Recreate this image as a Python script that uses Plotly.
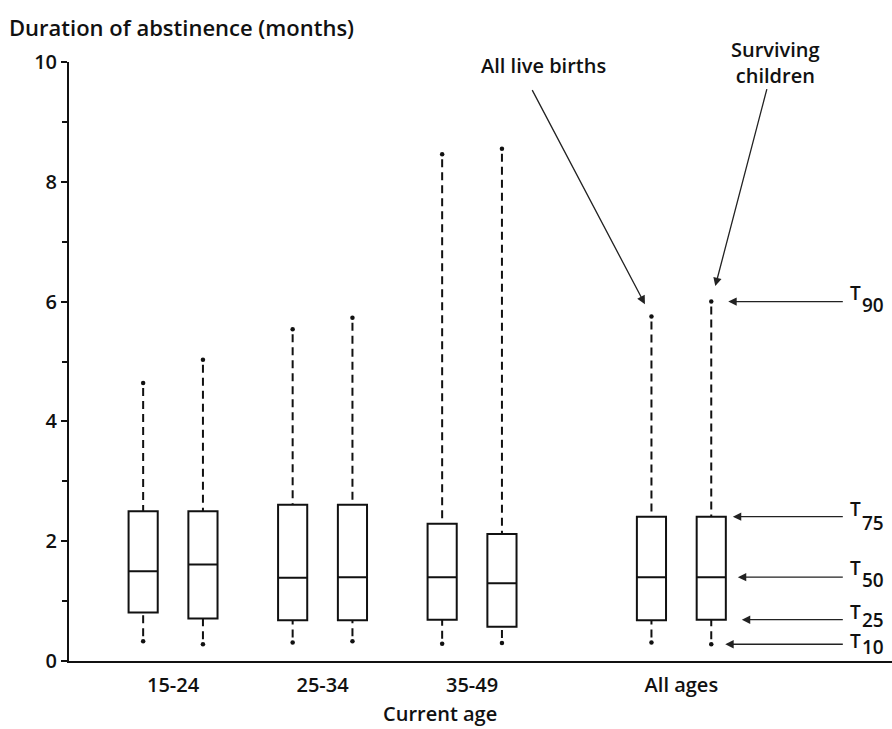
import plotly.graph_objects as go

# Age groups and their positions on the x axis
categories = ["15-24", "25-34", "35-49", "All ages"]
group_pos = [1.0, 2.0, 3.0, 4.4]

# Percentiles of duration of abstinence (months), all live births
alb_t10 = [0.33, 0.31, 0.29, 0.31]
alb_t25 = [0.81, 0.68, 0.69, 0.68]
alb_t50 = [1.50, 1.39, 1.40, 1.40]
alb_t75 = [2.50, 2.61, 2.29, 2.41]
alb_t90 = [4.64, 5.54, 8.46, 5.75]

# Percentiles of duration of abstinence (months), surviving children
sc_t10 = [0.28, 0.33, 0.30, 0.28]
sc_t25 = [0.71, 0.68, 0.57, 0.69]
sc_t50 = [1.61, 1.40, 1.30, 1.40]
sc_t75 = [2.50, 2.61, 2.12, 2.41]
sc_t90 = [5.03, 5.73, 8.55, 6.00]

FONT = "Open Sans"
INK = "#111111"
OFFSET = 0.2
BOX_W = 0.195


def txt(size):
    return dict(family=FONT, size=size, color=INK, weight=600)


x_alb = [p - OFFSET for p in group_pos]
x_sc = [p + OFFSET for p in group_pos]

fig = go.Figure()


def add_series(xs, t10, t25, t50, t75, t90, name):
    # box from the quartiles, whiskers drawn separately as dashed lines
    fig.add_trace(go.Box(
        x=xs, q1=t25, median=t50, q3=t75, lowerfence=t25, upperfence=t75,
        width=BOX_W, whiskerwidth=0, boxpoints=False,
        fillcolor="white", line=dict(color=INK, width=2),
        name=name, showlegend=False, hoverinfo="skip",
    ))
    wx, wy = [], []
    for x, lo, q1, q3, hi in zip(xs, t10, t25, t75, t90):
        wx += [x, x, None, x, x, None]
        wy += [hi, q3, None, lo, q1, None]
    fig.add_trace(go.Scatter(
        x=wx, y=wy, mode="lines",
        line=dict(color=INK, width=2, dash="0px,5px,8px,0px"),
        showlegend=False, hoverinfo="skip",
    ))
    fig.add_trace(go.Scatter(
        x=xs + xs, y=t90 + t10, mode="markers",
        marker=dict(color=INK, size=4.5),
        showlegend=False, hoverinfo="skip",
    ))


add_series(x_alb, alb_t10, alb_t25, alb_t50, alb_t75, alb_t90, "All live births")
add_series(x_sc, sc_t10, sc_t25, sc_t50, sc_t75, sc_t90, "Surviving children")

annotations = []
arrow_style = dict(showarrow=True, arrowhead=2, arrowsize=1.3, arrowwidth=1.3,
                   arrowcolor="#222222", text="")

# series labels with pointers to the "All ages" boxes
annotations.append(dict(x=x_alb[3], y=alb_t90[3], xref="x", yref="y",
                        ax=-120, ay=-228, standoff=14, **arrow_style))
annotations.append(dict(x=x_sc[3], y=sc_t90[3], xref="x", yref="y",
                        ax=56, ay=-214, standoff=16, **arrow_style))
annotations.append(dict(x=3.91, y=9.94, xref="x", yref="y", xanchor="right",
                        yanchor="middle", showarrow=False, text="All live births",
                        font=txt(20)))
annotations.append(dict(x=5.03, y=9.99, xref="x", yref="y", xanchor="center",
                        yanchor="middle", showarrow=False,
                        text="Surviving<br>children", align="center",
                        font=txt(20)))

# percentile key on the right, pointing at the surviving-children box
box_edge = x_sc[3] + BOX_W / 2
key = [
    ("90", x_sc[3], sc_t90[3], 17, 9, -3),
    ("75", box_edge, sc_t75[3], 7, 8, -6),
    ("50", box_edge, sc_t50[3], 12, 9, -3),
    ("25", box_edge, sc_t25[3], 16, 8, 0),
    ("10", x_sc[3], sc_t10[3], 14, 3, -3),
]
TAIL_X = 5.49
for sub, hx, hy, stand, t_shift, n_shift in key:
    annotations.append(dict(x=hx, y=hy, xref="x", yref="y", axref="x", ayref="y",
                            ax=TAIL_X, ay=hy, standoff=stand, **arrow_style))
    annotations.append(dict(x=TAIL_X, y=hy, xref="x", yref="y", xanchor="left",
                            yanchor="middle", xshift=4, yshift=t_shift,
                            showarrow=False, text="T", font=txt(19)))
    annotations.append(dict(x=TAIL_X, y=hy, xref="x", yref="y", xanchor="left",
                            yanchor="middle", xshift=16, yshift=n_shift,
                            showarrow=False, text=sub, font=txt(19)))

# axis titles
annotations.append(dict(x=0, y=1, xref="paper", yref="paper", xanchor="left",
                        yanchor="middle", xshift=-62, yshift=35, showarrow=False,
                        text="Duration of abstinence (months)", font=txt(22)))
annotations.append(dict(x=0.451, y=0, xref="paper", yref="paper", xanchor="center",
                        yanchor="middle", yshift=-52, showarrow=False,
                        text="Current age", font=txt(20)))

fig.update_layout(
    width=892, height=729, autosize=False,
    margin=dict(l=69, r=0, t=62, b=68),
    paper_bgcolor="white", plot_bgcolor="white",
    boxmode="overlay", showlegend=False,
    font=dict(family=FONT, color=INK),
    annotations=annotations,
)
fig.update_xaxes(
    range=[0.304, 5.809], showline=True, linewidth=2, linecolor=INK,
    ticks="", tickvals=group_pos, ticktext=categories,
    tickfont=txt(20), ticklabelstandoff=5,
    showgrid=False, zeroline=False,
)
fig.update_yaxes(
    range=[0, 10], showline=True, linewidth=2, linecolor=INK,
    ticks="outside", ticklen=6, tickwidth=2, tickcolor=INK,
    tickvals=[0, 2, 4, 6, 8, 10],
    minor=dict(ticks="outside", ticklen=5, tickwidth=1.5, tickcolor=INK, dtick=1),
    tickfont=txt(20),
    showgrid=False, zeroline=False,
)

fig.write_html("out.html")
